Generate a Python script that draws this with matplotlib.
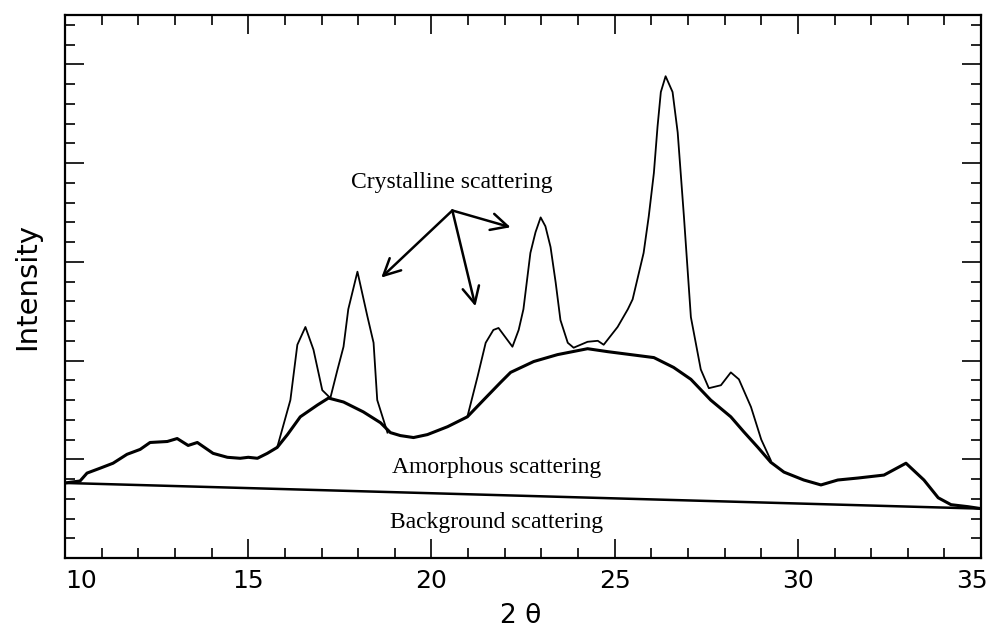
import numpy as np
import matplotlib.pyplot as plt
import matplotlib.transforms as mtransforms
from matplotlib.ticker import MultipleLocator, NullFormatter

# amorphous halo (thick curve), 2theta in degrees, intensity in arbitrary units
amorph_2theta = [10.00, 10.41, 10.60, 10.96, 11.31, 11.69, 12.05, 12.32, 12.79, 13.06,
                 13.36, 13.61, 14.04, 14.43, 14.78, 15.00, 15.25, 15.52, 15.79, 16.07,
                 16.42, 16.89, 17.19, 17.60, 18.14, 18.61, 18.88, 19.15, 19.51, 19.89,
                 20.44, 20.98, 21.42, 21.89, 22.16, 22.79, 23.44, 24.26, 24.81, 25.44,
                 26.07, 26.61, 27.08, 27.62, 28.17, 28.52, 28.91, 29.26, 29.62, 30.16,
                 30.63, 31.09, 31.64, 32.35, 32.95, 33.44, 33.83, 34.18, 34.64, 35.00]
amorph_int = [0.76, 0.78, 0.86, 0.91, 0.96, 1.05, 1.10, 1.17, 1.18, 1.21,
              1.14, 1.17, 1.06, 1.02, 1.01, 1.02, 1.01, 1.06, 1.12, 1.25,
              1.43, 1.55, 1.62, 1.58, 1.48, 1.37, 1.27, 1.24, 1.22, 1.25,
              1.33, 1.43, 1.60, 1.78, 1.88, 1.99, 2.06, 2.12, 2.09, 2.06,
              2.03, 1.93, 1.81, 1.60, 1.43, 1.28, 1.12, 0.97, 0.87, 0.79,
              0.74, 0.79, 0.81, 0.84, 0.96, 0.79, 0.61, 0.54, 0.52, 0.50]

# measured pattern where crystalline peaks rise above the halo
peaks1_2theta = [15.79, 16.15, 16.34, 16.56, 16.78, 17.02, 17.24, 17.43, 17.60, 17.73,
                 17.98, 18.25, 18.42, 18.52, 18.80]
peaks1_int = [1.12, 1.60, 2.16, 2.34, 2.11, 1.70, 1.62, 1.90, 2.14, 2.52,
              2.90, 2.45, 2.18, 1.60, 1.27]

peaks2_2theta = [20.98, 21.26, 21.48, 21.69, 21.83, 22.21, 22.38, 22.51, 22.70, 22.84,
                 22.98, 23.11, 23.25, 23.39, 23.52, 23.72, 23.88, 24.26, 24.54, 24.70,
                 25.08, 25.36, 25.49, 25.79, 25.93, 26.07, 26.17, 26.26, 26.39, 26.58,
                 26.72, 26.89, 27.08, 27.35, 27.57, 27.90, 28.17, 28.39, 28.72, 29.00,
                 29.26]
peaks2_int = [1.43, 1.84, 2.18, 2.31, 2.33, 2.14, 2.31, 2.52, 3.09, 3.30,
              3.45, 3.36, 3.15, 2.79, 2.41, 2.18, 2.13, 2.19, 2.20, 2.16,
              2.34, 2.52, 2.62, 3.09, 3.46, 3.90, 4.37, 4.72, 4.88, 4.72,
              4.31, 3.46, 2.44, 1.91, 1.72, 1.75, 1.88, 1.81, 1.53, 1.20,
              0.99]

# linear background
bg_2theta = [10.0, 35.0]
bg_int = [0.76, 0.50]

xtick_vals = [10, 15, 20, 25, 30, 35]

fig = plt.figure(figsize=(9.93, 6.31), dpi=100)
ax = fig.add_axes([0.0655, 0.1157, 0.9225, 0.8605])

ax.plot(bg_2theta, bg_int, color='black', lw=1.8)
ax.plot(amorph_2theta, amorph_int, color='black', lw=2.2)
ax.plot(peaks1_2theta, peaks1_int, color='black', lw=1.3)
ax.plot(peaks2_2theta, peaks2_int, color='black', lw=1.3)

ax.set_xlim(10, 35)
ax.set_ylim(0, 5.5)

ax.xaxis.set_major_locator(MultipleLocator(5))
ax.xaxis.set_minor_locator(MultipleLocator(1))
ax.yaxis.set_major_locator(MultipleLocator(1))
ax.yaxis.set_minor_locator(MultipleLocator(0.2))
ax.xaxis.set_major_formatter(NullFormatter())
ax.yaxis.set_major_formatter(NullFormatter())
ax.tick_params(which='both', direction='in', top=True, right=True, width=1.2)
ax.tick_params(which='major', length=14)
ax.tick_params(which='minor', length=7)
for s in ax.spines.values():
    s.set_linewidth(1.6)

# tick labels drawn by hand so the end ones sit inside the frame
base = ax.get_xaxis_transform()
for i, v in enumerate(xtick_vals):
    dx = 0.0
    if i == 0:
        dx = 0.16
    elif i == len(xtick_vals) - 1:
        dx = -0.09
    tr = base + mtransforms.ScaledTranslation(dx, -0.11, fig.dpi_scale_trans)
    ax.text(v, 0, str(v), transform=tr, ha='center', va='top', fontsize=18)

ax.set_xlabel('2 θ', fontsize=19, va='top')
ax.xaxis.set_label_coords(0.497, -0.083)
ax.set_ylabel('Intensity', fontsize=21, labelpad=14)

serif = {'family': 'Liberation Serif', 'fontsize': 17}
ax.text(20.55, 3.80, 'Crystalline scattering', ha='center', va='center', **serif)
ax.text(21.78, 0.92, 'Amorphous scattering', ha='center', va='center', **serif)
ax.text(21.78, 0.355, 'Background scattering', ha='center', va='center', **serif)

# arrows from the label to three peaks
origin = (20.57, 3.52)
for tip in [(18.63, 2.84), (21.20, 2.55), (22.16, 3.35)]:
    ax.annotate('', xy=tip, xytext=origin,
                arrowprops=dict(arrowstyle='->', color='black', lw=1.8,
                                mutation_scale=30, shrinkA=0, shrinkB=0))

fig.savefig('out.png', dpi=100)
